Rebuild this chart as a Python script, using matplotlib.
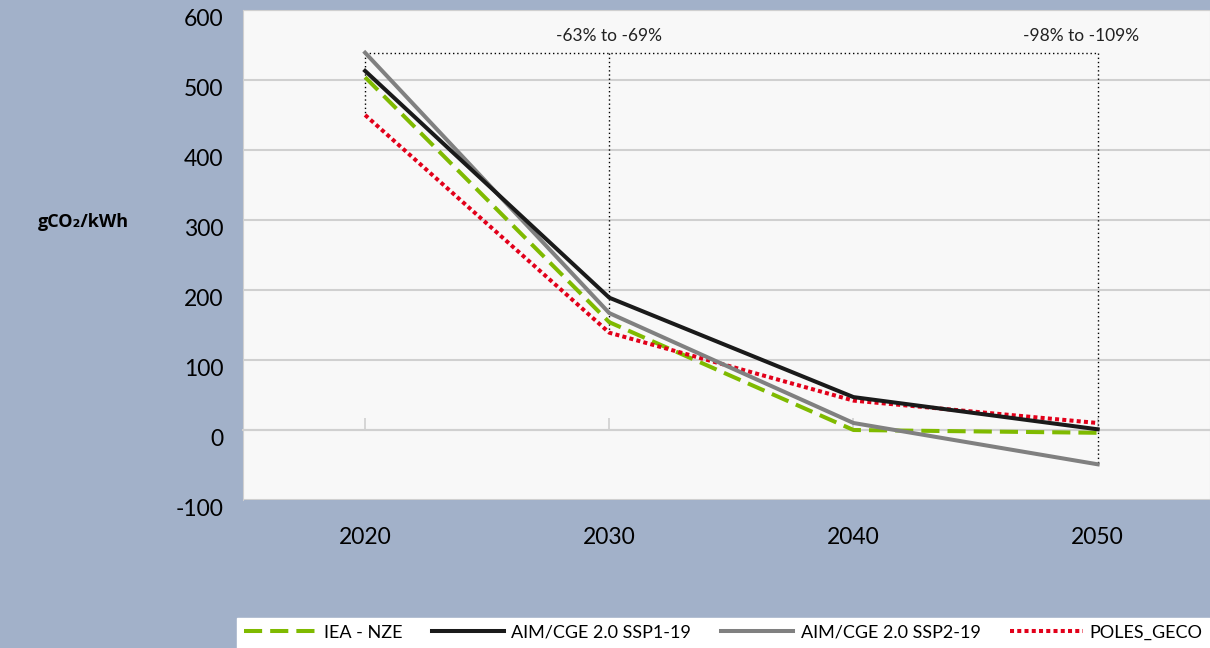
import numpy as np
import matplotlib
matplotlib.use("Agg")
import matplotlib.pyplot as plt
from matplotlib.transforms import ScaledTranslation

# ---- data ----
years = ["2020", "2030", "2040", "2050"]
iea_nze = [504, 154, 0, -4]
aim_ssp1 = [513, 189, 47, 1]
aim_ssp2 = [539, 167, 10, -49]
poles_geco = [450, 139, 42, 10]
yticks = [-100, 0, 100, 200, 300, 400, 500, 600]
range_labels = {"2030": "-63% to -69%", "2050": "-98% to -109%"}

BG = "#a2b1c9"
PLOT_BG = "#f8f8f8"
GRID = "#d0d0d0"
FONT = ["Lato", "DejaVu Sans"]

fig = plt.figure(figsize=(12.1, 6.48), dpi=100, facecolor=BG)
ax = fig.add_axes([243 / 1210, 1 - 500 / 648, 1 - 243 / 1210, 490 / 648])
ax.set_facecolor(PLOT_BG)

# axis layout first: moving the spine resets tick label styling
for s in ["left", "top", "right"]:
    ax.spines[s].set_color(GRID)
ax.spines["bottom"].set_position(("data", 0))
ax.spines["bottom"].set_color(GRID)
ax.spines["bottom"].set_linewidth(1.5)

x = np.arange(len(years))
series = [
    (iea_nze, "IEA - NZE", dict(color="#7fba00", ls=(0, (4.5, 2)))),
    (poles_geco, "POLES_GECO", dict(color="#e2001a", ls=(0, (1, 0.8)))),
    (aim_ssp2, "AIM/CGE 2.0 SSP2-19", dict(color="#808080", ls="-")),
    (aim_ssp1, "AIM/CGE 2.0 SSP1-19", dict(color="#1a1a1a", ls="-")),
]
handles = {}
for vals, label, st in series:
    h, = ax.plot(x, vals, lw=2.9, label=label, zorder=4, **st)
    handles[label] = h

# bracket of dotted lines showing the range of reductions
allv = np.array([iea_nze, aim_ssp1, aim_ssp2, poles_geco])
top = allv[:, 0].max()
ax.plot([x[0], x[-1]], [top, top], color="black", ls=(0, (1, 2)), lw=1, zorder=3)
for i in [0, 1, 3]:
    ax.plot([x[i], x[i]], [top, allv[:, i].min()], color="black", ls=(0, (1, 2)), lw=1, zorder=3)
for yr, txt in range_labels.items():
    i = years.index(yr)
    off = -0.07 if i == len(years) - 1 else 0
    ax.text(x[i] + off, top + 12, txt, ha="center", va="bottom", fontsize=12.5,
            family=FONT, color="#222222")

ax.set_xlim(-0.5, 3.46)
ax.set_ylim(-100, 600)
ax.set_yticks(yticks)
ax.set_yticklabels([str(v) for v in yticks])
ax.set_xticks(x)
ax.set_xticklabels(years)
ax.grid(axis="y", color=GRID, lw=1.5)
ax.set_axisbelow(True)

ax.tick_params(axis="x", direction="in", length=9, color=GRID, width=1.2, pad=70,
               labelsize=16.5)
ax.tick_params(axis="y", length=0, pad=14, labelsize=16.5)
for lab in ax.get_xticklabels() + ax.get_yticklabels():
    lab.set_family(FONT)
for lab in ax.get_yticklabels():
    lab.set_transform(lab.get_transform() + ScaledTranslation(0, -0.08, fig.dpi_scale_trans))

fig.text(38 / 1210, 1 - 222 / 648, "gCO₂/kWh", fontsize=13, fontweight="bold",
         family=["Open Sans", "DejaVu Sans"], ha="left", va="center")

order = ["IEA - NZE", "AIM/CGE 2.0 SSP1-19", "AIM/CGE 2.0 SSP2-19", "POLES_GECO"]
leg = fig.legend([handles[k] for k in order], order, loc="lower left",
                 bbox_to_anchor=(237 / 1210, 0, 1 - 237 / 1210, 31 / 648),
                 mode="expand", ncol=4, frameon=True, fancybox=False,
                 facecolor="white", edgecolor="white", framealpha=1,
                 borderaxespad=0, handlelength=4, handletextpad=0.4,
                 prop={"family": FONT, "size": 13})

fig.savefig("out.png", dpi=100, facecolor=BG)
